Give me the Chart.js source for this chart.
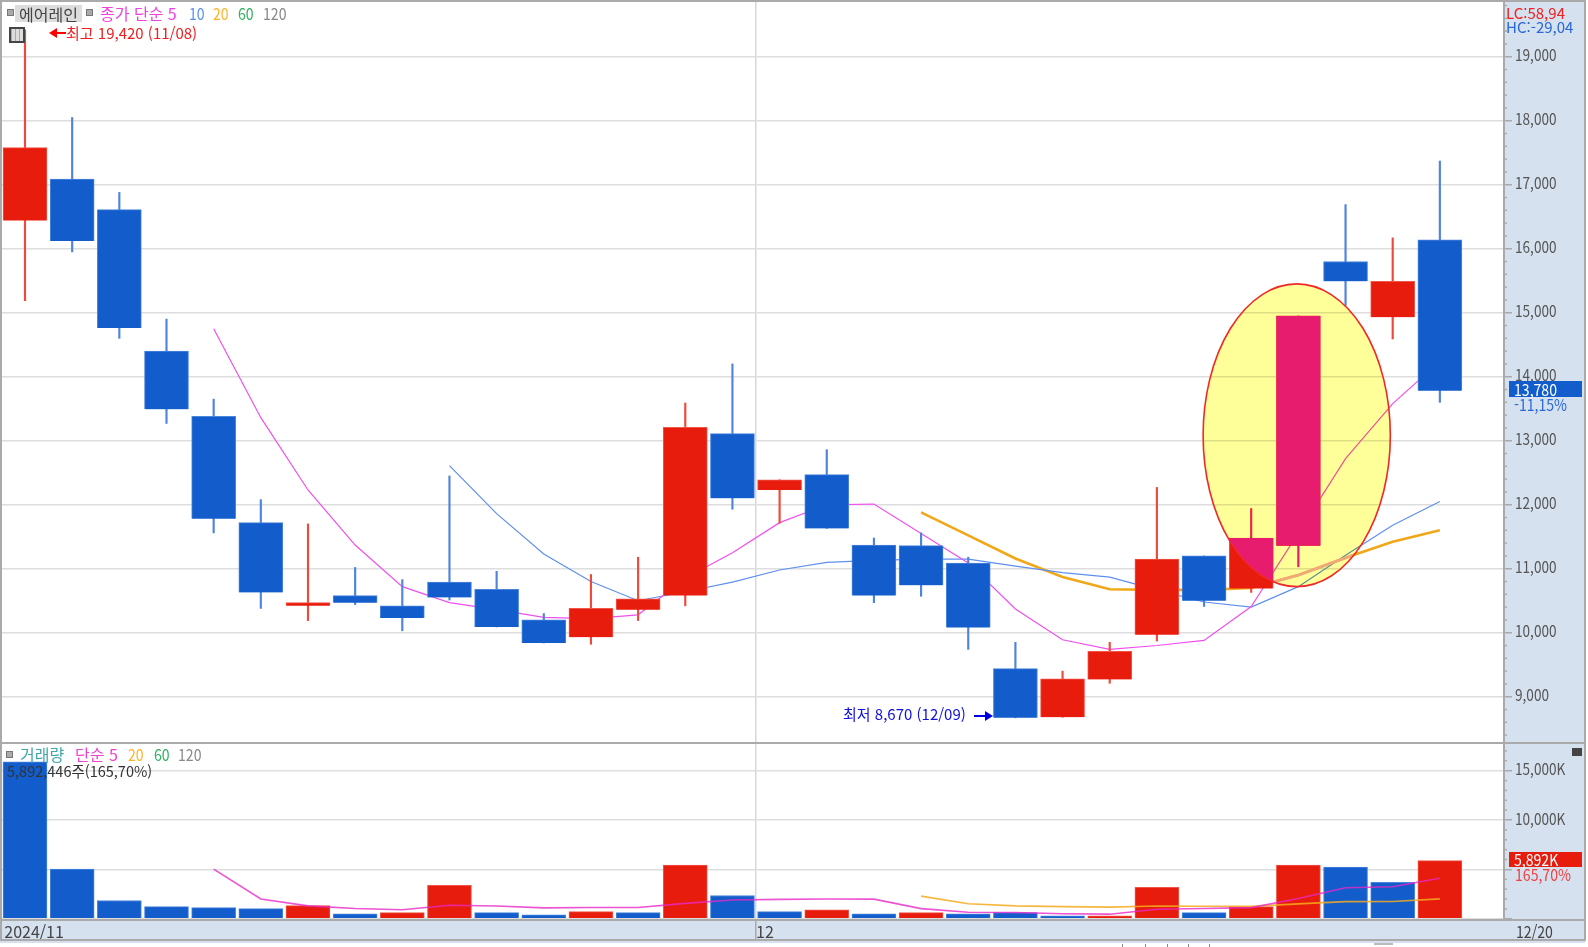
<!DOCTYPE html>
<html lang="ko">
<head>
<meta charset="utf-8">
<title>에어레인</title>
<script src="https://cdn.jsdelivr.net/npm/chart.js@4/dist/chart.umd.js"></script>
<style>
  html, body { margin: 0; padding: 0; background: #fff; width: 1588px; height: 947px; overflow: hidden; }
  canvas { position: absolute; left: 0; display: block; }
  .t { position: absolute; white-space: nowrap; height: 18px; font: 15px/18px 'Noto Sans CJK KR', sans-serif; color: #555; }
  .l { font-size: 16px; }
  .n { transform: scaleX(0.88); transform-origin: left center; font-size: 16px; }
  .box { position: absolute; }
</style>
</head>
<body>
<canvas id="priceChart" width="1588" height="744" style="top:0"></canvas>
<canvas id="volChart" width="1588" height="199" style="top:744px"></canvas>

<!-- 상단 범례 -->
<div class="box" style="left:7px;top:9px;width:5px;height:5px;background:#aaa;border:1px solid #777"></div>
<div class="box" style="left:15px;top:5px;width:67px;height:17px;background:#ddd"></div>
<div class="t l" style="left:19px;top:5px;color:#444">에어레인</div>
<div class="box" style="left:86px;top:9px;width:5px;height:5px;background:#aaa;border:1px solid #777"></div>
<div class="t l" style="left:100px;top:4px;color:#f040e0">종가 단순 5</div>
<div class="t n" style="left:189px;top:4px;color:#5a90f0">10</div>
<div class="t n" style="left:213px;top:4px;color:#ffb428">20</div>
<div class="t n" style="left:238px;top:4px;color:#30b060">60</div>
<div class="t n" style="left:263px;top:4px;color:#888">120</div>
<div class="box" style="left:9px;top:27px;width:12px;height:12px;border:2px solid #444;background:repeating-linear-gradient(90deg,#aaa 0 1px,#ddd 1px 4px)"></div>
<div class="box" style="left:49px;top:28px;width:0;height:0;border:5px solid transparent;border-right:8px solid #f00;border-left:0"></div>
<div class="box" style="left:56px;top:32px;width:10px;height:2px;background:#f00"></div>
<div class="t" style="left:66px;top:24px;color:#f02020">최고 19,420 (11/08)</div>

<!-- 우측 상단 -->
<div class="t" style="left:1506px;top:4px;color:#f02020">LC:58,94</div>
<div class="t" style="left:1506px;top:18px;color:#2868d8">HC:-29,04</div>

<!-- 최저 -->
<div class="t" style="left:843px;top:705px;color:#1010e0">최저 8,670 (12/09)</div>
<div class="box" style="left:974px;top:715px;width:12px;height:2px;background:#0000e0"></div>
<div class="box" style="left:985px;top:711px;width:0;height:0;border:5px solid transparent;border-left:8px solid #0000e0;border-right:0"></div>

<!-- 현재가 -->
<div class="box" style="left:1509px;top:381px;width:73px;height:16px;background:#125dcb"></div>
<div class="t n" style="left:1514px;top:380px;color:#fff">13,780</div>
<div class="t n" style="left:1514px;top:395px;color:#2868d8">-11,15%</div>

<!-- 거래량 범례 -->
<div class="box" style="left:6px;top:751px;width:5px;height:5px;background:#aaa;border:1px solid #777"></div>
<div class="t l" style="left:20px;top:745px;color:#40a8a8">거래량</div>
<div class="t l" style="left:75px;top:745px;color:#f040d0">단순 5</div>
<div class="t n" style="left:128px;top:745px;color:#ffb428">20</div>
<div class="t n" style="left:154px;top:745px;color:#30b060">60</div>
<div class="t n" style="left:178px;top:745px;color:#888">120</div>
<div class="t" style="left:7px;top:762px;color:#333;font-size:14.5px">5,892,446주(165,70%)</div>
<div class="box" style="left:1572px;top:748px;width:10px;height:8px;background:#444"></div>

<!-- 거래량 현재값 -->
<div class="box" style="left:1509px;top:852px;width:73px;height:15px;background:#e81c0c"></div>
<div class="t n" style="left:1514px;top:850px;color:#fff">5,892K</div>
<div class="t n" style="left:1515px;top:865px;color:#f04040">165,70%</div>

<div class="t n" style="left:1516px;top:922px;color:#444">12/20</div>

<!-- 아래쪽 잘린 탭 -->
<div class="box" style="left:1122px;top:944px;width:1px;height:3px;background:#888"></div>
<div class="box" style="left:1145px;top:944px;width:1px;height:3px;background:#888"></div>
<div class="box" style="left:1167px;top:944px;width:1px;height:3px;background:#888"></div>
<div class="box" style="left:1188px;top:944px;width:1px;height:3px;background:#888"></div>
<div class="box" style="left:1209px;top:944px;width:1px;height:3px;background:#888"></div>
<div class="box" style="left:1374px;top:943px;width:19px;height:2px;background:#bbb"></div>

<script>
// 일봉 (2024/11 ~ 12/20)
var opens  = [16440,17090,16610,14400,13380,11720,10420,10580,10420,10790,10680,10200, 9930,10360,10580,13110,12230,12470,11370,11360,11090, 9440, 8680, 9270, 9970,11200,10690,11360,15800,14930,16140];
var highs  = [19420,18050,16880,14900,13650,12080,11700,11020,10830,12450,10960,10300,10910,11180,13590,14200,12390,12860,11480,11560,11180, 9850, 9400, 9850,12270,11200,11940,14950,16690,16170,17370];
var lows   = [15190,15950,14600,13270,11560,10380,10190,10440,10030,10510,10090, 9840, 9820,10190,10420,11930,11710,11630,10470,10570, 9740, 8670, 8680, 9210, 9870,10410,10630,11030,15110,14590,13600];
var closes = [17580,16120,14760,13490,11780,10630,10470,10470,10230,10550,10090, 9840,10380,10530,13210,12100,12390,11630,10580,10740,10080, 8670, 9280, 9710,11150,10500,11480,14950,15490,15490,13780];

// 이동평균 (가격)
var ma5  = [null,null,null,null,14750,13360,12230,11370,10720,10470,10360,10240,10220,10280,10850,11250,11720,12000,12010,11550,11090,10370, 9890, 9740, 9800, 9880,10410,11560,12720,13580,14240];
var ma10 = [null,null,null,null,null,null,null,null,null,12610,11860,11230,10800,10500,10640,10790,10980,11100,11130,11150,11150,11040,10940,10870,10670,10480,10400,10720,11210,11680,12050];
var ma20 = [null,null,null,null,null,null,null,null,null,null,null,null,null,null,null,null,null,null,null,11880,11520,11160,10870,10680,10670,10670,10700,10900,11170,11420,11600];

// 거래량 (K주)
var volumes = [15900,5030,1850,1230,1130,1030,1330,510,620,3380,620,410,720,620,5440,2360,720,920,510,620,510,620,300,300,3180,620,1230,5440,5230,3690,5892];
var volSide = ['b','b','b','b','b','b','r','b','r','r','b','b','r','b','r','b','b','r','b','r','b','b','b','r','r','b','r','r','b','b','r'];
var volMa5  = [null,null,null,null,5030,2010,1310,1050,920,1370,1290,1110,1150,1150,1560,1910,1970,2010,1990,1030,660,640,510,470,970,1040,1130,2050,3140,3240,4100];
var volMa20 = [null,null,null,null,null,null,null,null,null,null,null,null,null,null,null,null,null,null,null,2300,1530,1310,1230,1180,1290,1270,1260,1510,1740,1750,2020];

// 눈금 라벨, 월 구분
var dateTicks = [{ value: -0.44, label: '2024/11' }, { value: 15.5, label: '12' }];
var priceMajor = 1000, priceMinor = 200;
var volMajor = 5000, volMinor = 1000;
var volLabels = [15000, 10000];

// 강조 타원 (x = 봉 번호, y = 가격)
var circle = { xMin: 24.98, xMax: 28.95, yMin: 10720, yMax: 15450 };

var RED = '#e81c0c', BLUE = '#125dcb', PINK = '#e81c6e';
var RED_E = '#ef5548', BLUE_E = '#4a85dc';
var RED_W = '#ee4a3c', BLUE_W = '#4f84dc';
var GRID = '#dedede', AXIS = '#aaaaaa', PANEL = '#d6e1ef';
var FONT = { family: "'Noto Sans CJK KR', sans-serif", size: 16 };
var X_MIN = -0.488, X_MAX = 31.36;
var AXIS_W = 80, FRAME_R = 1585;

function fmtNum(n) { return n.toLocaleString('en-US'); }
function xy(arr) {
  var out = [];
  arr.forEach(function(v, i) { if (v !== null) out.push({ x: i, y: v }); });
  return out;
}
function upColor(up, down) {
  return closes.map(function(v, i) { return v >= opens[i] ? up : down; });
}

// 패널 배경, 테두리, 보조 눈금
var panelPlugin = {
  id: 'panel',
  beforeDraw: function(chart) {
    var c = chart.ctx, a = chart.chartArea;
    c.save();
    c.fillStyle = PANEL;
    c.fillRect(a.right, 0, FRAME_R - a.right, chart.height);
    c.fillRect(0, a.bottom, FRAME_R, chart.height - a.bottom);
    c.restore();
  },
  afterDraw: function(chart) {
    var c = chart.ctx, a = chart.chartArea, s = chart.scales.y;
    var major = chart.options.plugins.panel.major;
    var isPrice = chart.canvas.id === 'priceChart';
    c.save();
    c.strokeStyle = AXIS;
    c.lineWidth = 1.5;
    s.ticks.forEach(function(t) {
      if (t.value % major === 0) return;
      var y = s.getPixelForValue(t.value);
      c.beginPath(); c.moveTo(a.right, y); c.lineTo(a.right + 3, y); c.stroke();
    });
    c.lineWidth = 2;
    if (isPrice) c.strokeRect(1, 1, FRAME_R - 1, a.bottom);
    else c.strokeRect(1, -2, FRAME_R - 1, chart.height - 1);
    c.beginPath();
    c.moveTo(0, a.bottom); c.lineTo(FRAME_R, a.bottom);
    c.stroke();
    c.restore();
  }
};

// 타원: 곱하기 칠, 안쪽 양봉은 분홍으로
var circlePlugin = {
  id: 'circle',
  afterDatasetsDraw: function(chart) {
    var c = chart.ctx, sx = chart.scales.x, sy = chart.scales.y;
    var l = sx.getPixelForValue(circle.xMin), r = sx.getPixelForValue(circle.xMax);
    var t = sy.getPixelForValue(circle.yMax), b = sy.getPixelForValue(circle.yMin);
    function path() {
      c.beginPath();
      c.ellipse((l + r) / 2, (t + b) / 2, (r - l) / 2, (b - t) / 2, 0, 0, Math.PI * 2);
    }
    c.save();
    c.globalCompositeOperation = 'multiply';
    c.fillStyle = '#ffff99';
    path(); c.fill();
    c.globalCompositeOperation = 'source-over';
    c.save();
    path(); c.clip();
    // 20일선은 타원 안에서 옅게
    var m20 = chart.getDatasetMeta(2).data;
    c.strokeStyle = '#eeaa78'; c.lineWidth = 3;
    c.beginPath();
    m20.forEach(function(p, i) { if (i) c.lineTo(p.x, p.y); else c.moveTo(p.x, p.y); });
    c.stroke();
    [3, 4].forEach(function(idx) {
      chart.getDatasetMeta(idx).data.forEach(function(el, i) {
        if (closes[i] < opens[i]) return;
        var p = el.getProps(['x', 'y', 'base', 'width'], true);
        c.fillStyle = PINK;
        c.fillRect(p.x - p.width / 2, Math.min(p.y, p.base), p.width, Math.abs(p.base - p.y));
      });
    });
    c.restore();
    c.strokeStyle = '#f02828'; c.lineWidth = 1.6;
    path(); c.stroke();
    c.restore();
  }
};

function noPadding(s) { s.paddingTop = 0; s.paddingBottom = 0; s.paddingLeft = 0; s.paddingRight = 0; }

// 원본 눈금 글자는 폭이 좁다. 라벨만 가로로 줄여서 그림
function narrowLabels(s) {
  if (s._narrowed) return;
  s._narrowed = true;
  var draw = s.drawLabels;
  s.drawLabels = function(area) {
    var c = s.ctx, x0 = s.chart.chartArea.right + 11;
    c.save();
    c.translate(x0, -1.5);
    c.scale(0.85, 1);
    c.translate(-x0, 0);
    draw.call(s, area);
    c.restore();
  };
}

function xScale(extra) {
  return Object.assign({
    type: 'linear', min: X_MIN, max: X_MAX, offset: false,
    afterBuildTicks: function(s) { s.ticks = [{ value: dateTicks[1].value }]; },
    grid: { offset: false, color: '#d8d8d8', lineWidth: 1.5, drawTicks: false },
    border: { display: false },
    ticks: { display: false, autoSkip: false },
    afterFit: function(s) { noPadding(s); s.height = 0; }
  }, extra || {});
}

function yScale(min, max, step, major, labelFn) {
  return {
    position: 'right', min: min, max: max,
    afterBuildTicks: function(s) {
      var list = [];
      for (var v = Math.ceil(min / step) * step; v <= max; v += step) list.push({ value: v });
      s.ticks = list;
    },
    afterFit: function(s) { noPadding(s); s.width = AXIS_W; narrowLabels(s); },
    grid: {
      color: function(ctx) { return ctx.tick && ctx.tick.value % major === 0 ? GRID : 'rgba(0,0,0,0)'; },
      tickColor: function(ctx) { return ctx.tick && ctx.tick.value % major === 0 ? AXIS : 'rgba(0,0,0,0)'; },
      lineWidth: 1.5, tickWidth: 1.5, tickLength: 8
    },
    border: { display: true, color: AXIS, width: 2 },
    ticks: { autoSkip: false, padding: 3, color: '#555', font: FONT, callback: labelFn }
  };
}

new Chart(document.getElementById('priceChart'), {
  data: {
    datasets: [
      { type: 'line', data: xy(ma5),  borderColor: '#f050f0', borderWidth: 1.2, pointRadius: 0, order: 3 },
      { type: 'line', data: xy(ma10), borderColor: '#5f8fef', borderWidth: 1.2, pointRadius: 0, order: 3 },
      { type: 'line', data: xy(ma20), borderColor: '#f0a818', borderWidth: 2.6, pointRadius: 0, order: 3 },
      { type: 'bar', grouped: false, barThickness: 1.5, order: 2,
        data: highs.map(function(h, i) { return { x: i, y: [lows[i], h] }; }),
        backgroundColor: upColor(RED_W, BLUE_W) },
      { type: 'bar', grouped: false, barThickness: 44, order: 1,
        data: closes.map(function(v, i) { return { x: i, y: [opens[i], v] }; }),
        backgroundColor: upColor(RED, BLUE), borderColor: upColor(RED_E, BLUE_E), borderWidth: 1 }
    ]
  },
  options: {
    responsive: false, animation: false, devicePixelRatio: 1, events: [],
    layout: { padding: { left: 2, top: 2, right: 4, bottom: 1 } },
    plugins: { legend: { display: false }, tooltip: { enabled: false }, panel: { major: priceMajor } },
    scales: {
      x: xScale(),
      y: yScale(8277, 19855, priceMinor, priceMajor, function(v) {
        return v % priceMajor === 0 && v >= 9000 ? fmtNum(v) : '';
      })
    }
  },
  plugins: [panelPlugin, circlePlugin]
});

new Chart(document.getElementById('volChart'), {
  data: {
    datasets: [
      { type: 'line', data: xy(volMa5),  borderColor: 'rgba(232,40,200,0.8)', borderWidth: 1.6, pointRadius: 0, order: 1 },
      { type: 'line', data: xy(volMa20), borderColor: 'rgba(245,170,30,0.85)', borderWidth: 1.6, pointRadius: 0, order: 1 },
      { type: 'bar', grouped: false, barThickness: 44, order: 2,
        data: volumes.map(function(v, i) { return { x: i, y: v }; }),
        backgroundColor: volSide.map(function(s) { return s === 'r' ? RED : BLUE; }),
        borderColor: volSide.map(function(s) { return s === 'r' ? RED_E : BLUE_E; }), borderWidth: 1 }
    ]
  },
  options: {
    responsive: false, animation: false, devicePixelRatio: 1, events: [],
    layout: { padding: { left: 2, top: 0, right: 4, bottom: 2 } },
    plugins: { legend: { display: false }, tooltip: { enabled: false }, panel: { major: volMajor } },
    scales: {
      x: xScale({
        afterBuildTicks: function(s) { s.ticks = dateTicks.map(function(t) { return { value: t.value }; }); },
        grid: {
          offset: false, lineWidth: 1.5, drawTicks: true, tickLength: 21,
          color: function(ctx) { return ctx.index === 0 ? 'rgba(0,0,0,0)' : '#d8d8d8'; },
          tickColor: function(ctx) { return ctx.index === 0 ? 'rgba(0,0,0,0)' : AXIS; }
        },
        ticks: {
          display: true, autoSkip: false, maxRotation: 0, align: 'start', padding: -19, color: '#444', font: FONT,
          callback: function(v, i) { return dateTicks[i].label; }
        },
        afterFit: function(s) { noPadding(s); s.height = 21; }
      }),
      y: yScale(-120, 17697, volMinor, volMajor, function(v) {
        return volLabels.indexOf(v) >= 0 ? fmtNum(v) + 'K' : '';
      })
    }
  },
  plugins: [panelPlugin]
});
</script>
</body>
</html>
